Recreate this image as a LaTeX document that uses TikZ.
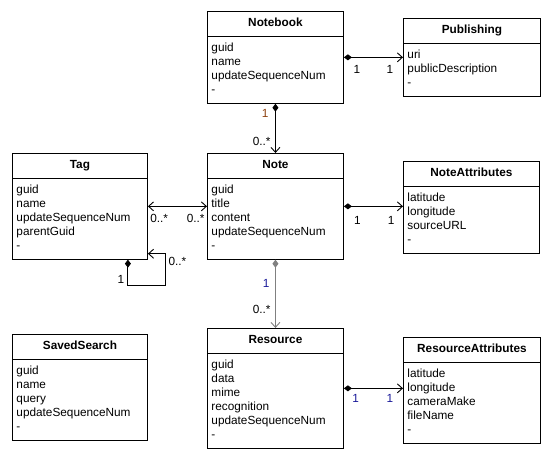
\documentclass[tikz,border=0pt]{standalone}
\usepackage{fontspec}
\setmainfont{Liberation Sans}
\usetikzlibrary{arrows.meta}
\usetikzlibrary{positioning}
\usetikzlibrary{shapes.multipart}
\tikzset{umlclass/.style = {rectangle split, rectangle split parts = 2, draw, line width = 0.9pt, anchor = north west, inner xsep = 4pt, inner ysep = 5pt, align = left, font = \fontsize{11.8}{14}\selectfont}}
\tikzset{comp/.style = {line width = 0.9pt, {Diamond[length = 8pt, width = 6pt]}-{Straight Barb[length = 5pt, width = 9pt]}}}
\tikzset{assoc/.style = {line width = 0.9pt, {Straight Barb[length = 5pt, width = 9pt]}-{Straight Barb[length = 5pt, width = 9pt]}}}
\tikzset{mult/.style = {inner sep = 0.5pt, font = \fontsize{11.8}{14}\selectfont}}
\newcommand{\classname}[1]{\hspace*{\fill}\textbf{#1}\hspace*{\fill}\strut}
\definecolor{mbrown}{rgb}{0.55, 0.25, 0.05}
\definecolor{mblue}{rgb}{0.1, 0.1, 0.6}

\begin{document}
\begin{tikzpicture}[x = 1pt, y = -1pt]
      \useasboundingbox (0, 0) rectangle (550, 457);

      \node [umlclass, text width = 128pt] (notebook) at (207, 11)
        {\classname{Notebook}
         \nodepart{two}\strut guid\\name\\updateSequenceNum\\-\strut};
      \node [umlclass, text width = 129pt] (publishing) at (403, 18)
        {\classname{Publishing}
         \nodepart{two}\strut uri\\publicDescription\\-\strut};
      \node [umlclass, text width = 127pt] (tag) at (12, 153)
        {\classname{Tag}
         \nodepart{two}\strut guid\\name\\updateSequenceNum\\parentGuid\\-\strut};
      \node [umlclass, text width = 128pt] (note) at (207, 153)
        {\classname{Note}
         \nodepart{two}\strut guid\\title\\content\\updateSequenceNum\\-\strut};
      \node [umlclass, text width = 128pt] (noteattributes) at (403, 161)
        {\classname{NoteAttributes}
         \nodepart{two}\strut latitude\\longitude\\sourceURL\\-\strut};
      \node [umlclass, text width = 127pt] (savedsearch) at (12, 334)
        {\classname{SavedSearch}
         \nodepart{two}\strut guid\\name\\query\\updateSequenceNum\\-\strut};
      \node [umlclass, text width = 128pt] (resource) at (207, 328)
        {\classname{Resource}
         \nodepart{two}\strut guid\\data\\mime\\recognition\\updateSequenceNum\\-\strut};
      \node [umlclass, text width = 129pt] (resourceattributes) at (403, 337)
        {\classname{ResourceAttributes}
         \nodepart{two}\strut latitude\\longitude\\cameraMake\\fileName\\-\strut};

      \draw [comp] (notebook.east) -- (notebook.east -| publishing.west)
        node [mult, pos = 0.22, below = 7pt] (nbpub1) {1}
        node [mult, pos = 0.78, below = 7pt] (nbpub2) {1};
      \draw [comp] (notebook.south) -- (note.north)
        node [mult, pos = 0.2, left = 6pt, text = mbrown] (nbnote1) {1}
        node [mult, pos = 0.76, left = 4pt] (nbnote2) {0..*};
      \draw [assoc] (tag.east) -- (note.west)
        node [mult, pos = 0, below right = 7pt and 1.5pt] (tagnote1) {0..*}
        node [mult, pos = 1, below left = 7pt and 1.5pt] (tagnote2) {0..*};
      \draw [comp] ([xshift = -20pt] tag.south east) -- ++(0, 26) -- ++(38, 0) |- ([yshift = 6pt] tag.south east);
      \node [mult, anchor = east] (tagtag1) at ([xshift = -23pt, yshift = -20pt] tag.south east) {1};
      \node [mult, anchor = north west] (tagtag2) at ([xshift = 20pt, yshift = 3pt] tag.south east) {0..*};
      \draw [comp] (note.east) -- (note.east -| noteattributes.west)
        node [mult, pos = 0.23, below = 9pt] (notena1) {1}
        node [mult, pos = 0.8, below = 9pt] (notena2) {1};
      \draw [comp, draw = gray] (note.south) -- (note.south |- resource.north)
        node [mult, pos = 0.35, left = 5pt, text = mblue] (noteres1) {1}
        node [mult, pos = 0.73, left = 4pt] (noteres2) {0..*};
      \draw [comp] (resource.east) -- (resource.east -| resourceattributes.west)
        node [mult, pos = 0.2, below = 5pt, text = mblue] (resra1) {1}
        node [mult, pos = 0.78, below = 5pt, text = mblue] (resra2) {1};
\end{tikzpicture}
\end{document}
